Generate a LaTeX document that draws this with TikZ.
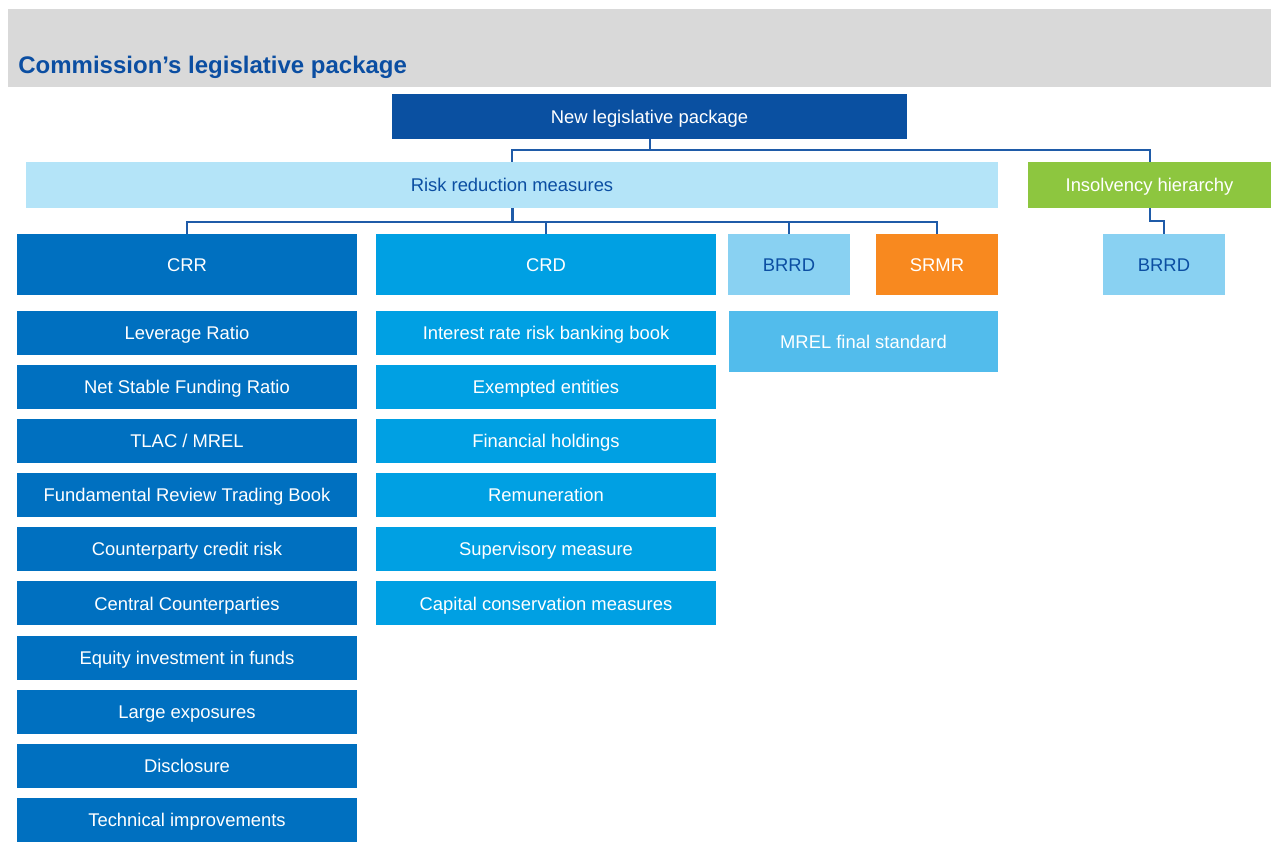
\documentclass[tikz,border=0pt]{standalone}
\usepackage{fontspec}
\setmainfont{Liberation Sans}
\usetikzlibrary{positioning}
\definecolor{headgray}{HTML}{D9D9D9}
\definecolor{titleblue}{HTML}{0B4EA2}
\definecolor{navy}{HTML}{0A50A1}
\definecolor{paleblue}{HTML}{B4E4F8}
\definecolor{lime}{HTML}{8DC63F}
\definecolor{crrblue}{HTML}{0070C0}
\definecolor{crdblue}{HTML}{00A0E3}
\definecolor{skyblue}{HTML}{89D1F2}
\definecolor{mrelblue}{HTML}{52BCEC}
\definecolor{srmrorange}{HTML}{F8891F}
\definecolor{linkblue}{HTML}{1F5BA8}
\tikzset{
  box/.style={inner sep=0, minimum height=22pt, text=white,
    text height=6.6pt, text depth=0pt,
    font=\fontsize{9.2}{11}\selectfont},
  crrbox/.style={box, fill=crrblue, minimum width=170pt},
  crdbox/.style={box, fill=crdblue, minimum width=170pt},
  headbox/.style={minimum height=30.5pt},
  link/.style={draw=linkblue, line width=1pt}
}
\begin{document}
\begin{tikzpicture}[x=0.5pt,y=-0.5pt]
  \useasboundingbox (0,0) rectangle (1271,844);
  % header band
  \fill[headgray] (8,9) rectangle (1271,87);
  \node[anchor=base west, inner sep=0, text=titleblue,
    font=\fontsize{12}{14}\selectfont\bfseries] (title) at (18,74)
    {Commission’s legislative package};

  % top levels
  \node[box, fill=navy, minimum width=257.5pt, minimum height=22.5pt] (nlp) at (649.5,116.5) {New legislative package};
  \node[box, fill=paleblue, text=titleblue, minimum width=486pt, minimum height=23pt] (risk) at (512,185) {Risk reduction measures};
  \node[box, fill=lime, minimum width=121.5pt, minimum height=23pt] (insolv) at (1149.5,185) {Insolvency hierarchy};

  % directives and regulations
  \node[crrbox, headbox] (crr) at (187,264.5) {CRR};
  \node[crdbox, headbox] (crd) at (546,264.5) {CRD};
  \node[box, headbox, fill=skyblue, text=titleblue, minimum width=61pt] (brrd) at (789,264.5) {BRRD};
  \node[box, headbox, fill=srmrorange, minimum width=61pt] (srmr) at (937,264.5) {SRMR};
  \node[box, headbox, fill=skyblue, text=titleblue, minimum width=61pt] (brrdb) at (1164,264.5) {BRRD};
  \node[box, headbox, fill=mrelblue, minimum width=134.5pt] (mrel) at (863.5,341.5) {MREL final standard};

  % CRR topics
  \foreach \txt [count=\i] in {Leverage Ratio, Net Stable Funding Ratio, TLAC / MREL,
      Fundamental Review Trading Book, Counterparty credit risk, Central Counterparties,
      Equity investment in funds, Large exposures, Disclosure, Technical improvements}
    \node[crrbox] (crr\i) at (187,{333+54.1*(\i-1)}) {\txt};

  % CRD topics
  \foreach \txt [count=\i] in {Interest rate risk banking book, Exempted entities,
      Financial holdings, Remuneration, Supervisory measure, Capital conservation measures}
    \node[crdbox] (crd\i) at (546,{333+54.1*(\i-1)}) {\txt};

  % connectors
  \draw[link] (nlp.south) -- ++(0,11) coordinate (split);
  \draw[link] (risk.north) |- (split) -| (insolv.north);
  \coordinate (fork) at (512,222);
  \draw[link, line width=1.5pt] (risk.south) -- (fork);
  \draw[link] (crr.north) |- (fork) -| (srmr.north);
  \draw[link] (crd.north) -- (crd.north |- fork);
  \draw[link] (brrd.north) -- (brrd.north |- fork);
  \draw[link] (insolv.south) -- ++(0,13) -| (brrdb.north);
\end{tikzpicture}
\end{document}
